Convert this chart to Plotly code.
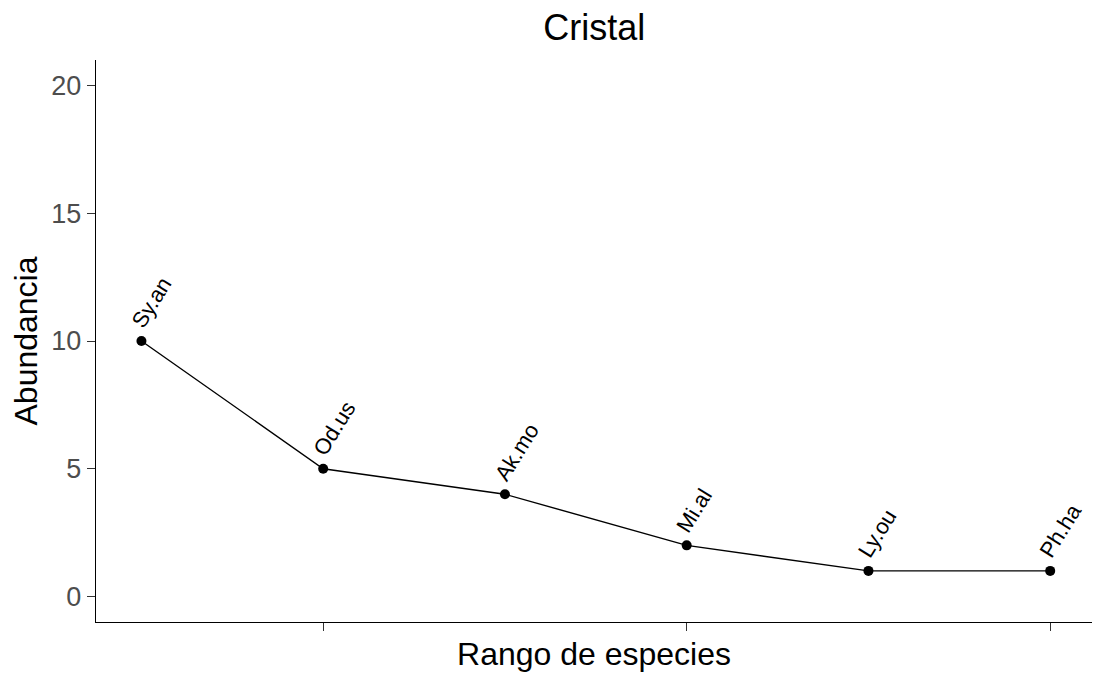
import plotly.graph_objects as go

# Rank-abundance data for the Cristal site
rango = [1, 2, 3, 4, 5, 6]
abundancia = [10, 5, 4, 2, 1, 1]
especies = ["Sy.an", "Od.us", "Ak.mo", "Mi.al", "Ly.ou", "Ph.ha"]

y_ticks = [0, 5, 10, 15, 20]
x_ticks = [2, 4, 6]

FONT = "Liberation Sans, Arial, sans-serif"

fig = go.Figure()
fig.add_trace(go.Scatter(
    x=rango, y=abundancia, mode="lines+markers",
    line=dict(color="black", width=1.4),
    marker=dict(color="black", size=10),
    hoverinfo="skip", showlegend=False,
))

# Rotated species labels anchored just above each point
for xv, yv, lab in zip(rango, abundancia, especies):
    fig.add_annotation(
        x=xv, y=yv, text=lab, showarrow=False, textangle=-58,
        xanchor="left", yanchor="bottom", xshift=-18, yshift=6,
        font=dict(family=FONT, size=22, color="black"),
    )

fig.update_layout(
    width=1093, height=673,
    margin=dict(l=96, r=1, t=60, b=51),
    paper_bgcolor="white", plot_bgcolor="white",
    title=dict(text="Cristal", x=0.5436, xanchor="center", y=0.96, yanchor="middle",
               font=dict(family=FONT, size=36, color="black")),
    font=dict(family=FONT),
)
fig.update_xaxes(
    range=[0.75, 6.23], tickvals=x_ticks, showticklabels=False,
    ticks="outside", ticklen=8, tickcolor="#333333", tickwidth=1.2,
    showline=True, linecolor="black", linewidth=1.4,
    showgrid=False, zeroline=False,
    title=dict(text="Rango de especies", standoff=12,
               font=dict(family=FONT, size=32, color="black")),
)
fig.update_yaxes(
    range=[-1, 21], tickvals=y_ticks,
    ticks="outside", ticklen=8, tickcolor="#333333", tickwidth=1.2,
    tickfont=dict(family=FONT, size=27, color="#4D4D4D"),
    showline=True, linecolor="black", linewidth=1.4,
    showgrid=False, zeroline=False,
    title=dict(text="Abundancia", standoff=4,
               font=dict(family=FONT, size=32, color="black")),
)

fig.write_html("out.html")
